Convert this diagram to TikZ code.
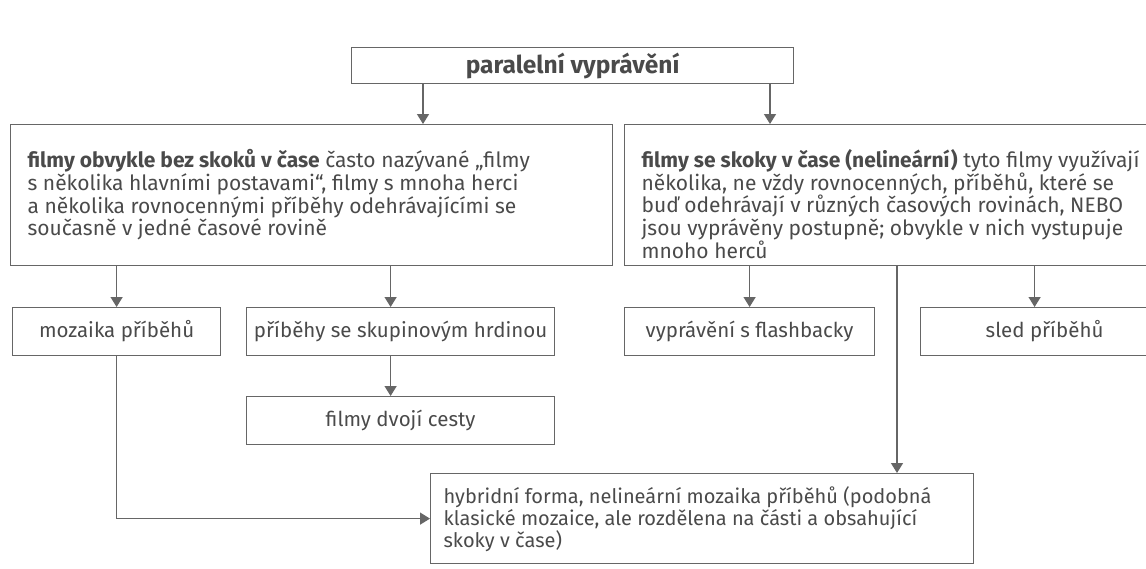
\documentclass[tikz,border=0pt]{standalone}
\usepackage{fontspec}
\setmainfont{Fira Sans}
\usetikzlibrary{arrows.meta, positioning, calc}
\definecolor{textgray}{HTML}{4A4A4A}
\definecolor{linegray}{HTML}{666666}

\begin{document}
\begin{tikzpicture}[x=1pt, y=-1pt,
    box/.style={draw=linegray, line width=1.2pt, inner sep=0pt, text=textgray, anchor=north west},
    arr/.style={draw=linegray, line width=1.4pt, -{Triangle[width=12pt,length=10pt]}},
    font=\fontsize{20.5}{22.5}\selectfont]
\clip (0,0) rectangle (1146,568);

% Title
\node[box, minimum width=442, minimum height=36, font=\fontsize{24.5}{26}\selectfont\bfseries] (par) at (351,47) {paralelní vyprávění};

% Two main branches
\node[box, inner xsep=17pt, font=\fontsize{21}{22.6}\selectfont] (bez) at (10,124) {\parbox[c][141pt][t]{568pt}{\raggedright\vspace*{25pt}%
    \textbf{filmy obvykle bez skoků v čase} často nazývané „filmy\\
    s několika hlavními postavami“, filmy s mnoha herci\\
    a několika rovnocennými příběhy odehrávajícími se\\
    současně v jedné časové rovině}};
\node[box, inner xsep=17pt, font=\fontsize{21}{22.6}\selectfont] (skoky) at (624,124) {\parbox[c][141pt][t]{532pt}{\raggedright\vspace*{25pt}%
    \textbf{filmy se skoky v čase (nelineární)} tyto filmy využívají\\
    několika, ne vždy rovnocenných, příběhů, které se\\
    buď odehrávají v různých časových rovinách, NEBO\\
    jsou vyprávěny postupně; obvykle v nich vystupuje\\
    mnoho herců}};

% Second row
\node[box, minimum width=208, minimum height=48] (mozaika) at (12,307) {mozaika příběhů};
\node[box, minimum width=308, minimum height=48] (skupina) at (246,307) {příběhy se skupinovým hrdinou};
\node[box, minimum width=308, minimum height=48] (dvoji) at (246,396) {filmy dvojí cesty};
\node[box, minimum width=250, minimum height=48] (flash) at (624,307) {vyprávění s flashbacky};
\node[box, minimum width=248, minimum height=48] (sled) at (920,307) {sled příběhů};

% Hybrid form
\node[box, inner xsep=13pt, font=\fontsize{20}{22}\selectfont] (hybrid) at (430,473) {\parbox[c][90pt][t]{517pt}{\raggedright\vspace*{13pt}%
    hybridní forma, nelineární mozaika příběhů (podobná\\
    klasické mozaice, ale rozdělena na části a obsahující\\
    skoky v čase)}};

% Connectors
\draw[arr] ([xshift=72]par.south west) -- ([xshift=72]par.south west |- bez.north);
\draw[arr] ([xshift=419]par.south west) -- ([xshift=419]par.south west |- skoky.north);
\draw[arr] (mozaika.north |- bez.south) -- (mozaika.north);
\draw[arr] ([xshift=-10]skupina.north |- bez.south) -- ([xshift=-10]skupina.north);
\draw[arr] ([xshift=-10]skupina.south) -- ([xshift=-10]dvoji.north);
\draw[arr] (mozaika.south) |- (hybrid.west);
\draw[arr] (flash.north |- skoky.south) -- (flash.north);
\draw[arr] ([xshift=-10]sled.north |- skoky.south) -- ([xshift=-10]sled.north);
\draw[arr] ([xshift=467]hybrid.north west |- skoky.south) -- ([xshift=467]hybrid.north west);
\end{tikzpicture}
\end{document}
